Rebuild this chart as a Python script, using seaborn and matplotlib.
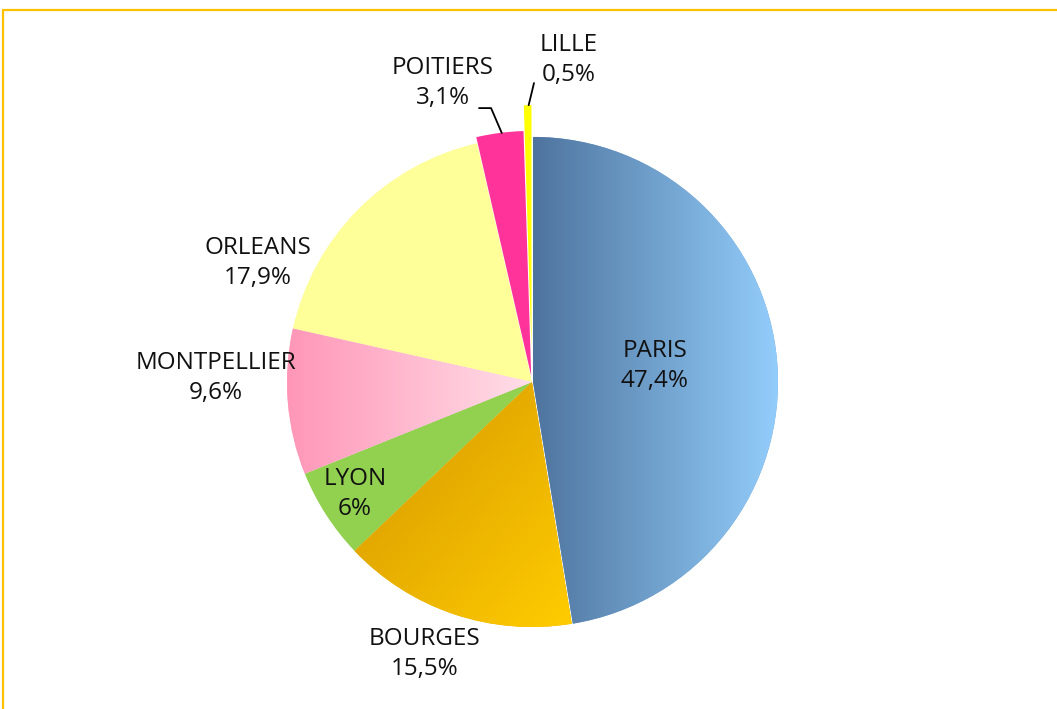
import numpy as np
import matplotlib
matplotlib.use("Agg")
import matplotlib.pyplot as plt
from matplotlib.lines import Line2D
from matplotlib.colors import to_rgb
import seaborn as sns

# ---- data ----
cities = ["PARIS", "BOURGES", "LYON", "MONTPELLIER", "ORLEANS", "POITIERS", "LILLE"]
shares = [47.4, 15.5, 6.0, 9.6, 17.9, 3.1, 0.5]

# ---- style ----
base_colors = ["#6f9ccc", "#ecb400", "#92d050", "#ffbbd0", "#ffff99", "#ff3399", "#ffff00"]
gradients = {
    0: ("#4e749e", "#93cdfb", "h"),
    1: ("#d49600", "#ffcc00", "d"),
    3: ("#ff96b8", "#ffdfe9", "h"),
}
explode_frac = [0.004, 0, 0, 0, 0, 0.025, 0.13]
# label offsets in units of radius (dx, dy)
label_off = [(0.502, 0.065), (-0.437, -1.110), (-0.722, -0.457), (-1.290, 0.016),
             (-1.118, 0.486), (-0.363, 1.220), (0.151, 1.314)]

sns.set_theme(style="white")
plt.rcParams["font.family"] = ["Open Sans", "DejaVu Sans"]

W, H = 1057, 709
fig = plt.figure(figsize=(W / 100, H / 100), dpi=100)
ax = fig.add_axes([0, 0, 1, 1])
ax.set_axis_off()

cx, cy, R = 532, H - 382, 245
palette = sns.color_palette(base_colors)

wedges, _ = ax.pie(shares, colors=palette, startangle=90, counterclock=False,
                   explode=[e * R for e in explode_frac], center=(cx, cy), radius=R,
                   wedgeprops=dict(linewidth=0, antialiased=True))

# gradient fills
for i, (c0, c1, mode) in gradients.items():
    w = wedges[i]
    ext = w.get_path().get_extents()
    n = 256
    xs = np.linspace(0, 1, n)
    X, Y = np.meshgrid(xs, xs)
    if mode == "h":
        t = X
    else:
        t = (X + (1 - Y)) / 2
    a, b = np.array(to_rgb(c0)), np.array(to_rgb(c1))
    img = a[None, None, :] * (1 - t[..., None]) + b[None, None, :] * t[..., None]
    im = ax.imshow(img, extent=[ext.x0, ext.x1, ext.y0, ext.y1], origin="lower",
                   aspect="auto", interpolation="bicubic", zorder=w.get_zorder() + 0.1)
    im.set_clip_path(w)

# labels
for i, (name, v) in enumerate(zip(cities, shares)):
    txt = f"{name}\n{v:g}%".replace(".", ",")
    dx, dy = label_off[i]
    ax.text(cx + dx * R, cy + dy * R, txt, ha="center", va="center",
            fontsize=17.5, color="#111111", linespacing=1.3, zorder=10)

# leader lines for small slices
def arc_mid(w):
    th = np.deg2rad((w.theta1 + w.theta2) / 2)
    return w.center[0] + w.r * np.cos(th), w.center[1] + w.r * np.sin(th)

# Poitiers
px, py = arc_mid(wedges[5])
lx = cx + label_off[5][0] * R
ly = cy + label_off[5][1] * R
ax.plot([lx + 36, lx + 48, px + 2], [ly - 25, ly - 25, py], color="black", lw=1.3, zorder=9)
# Lille
qx, qy = arc_mid(wedges[6])
mx = cx + label_off[6][0] * R
my = cy + label_off[6][1] * R
ax.plot([qx + 1, mx - 35], [qy, my - 23], color="black", lw=1.3, zorder=9)

ax.set_xlim(0, W)
ax.set_ylim(0, H)
ax.set_aspect("equal")

# chart frame (gold border, cut at right/bottom)
gold = "#ffc000"
fig.add_artist(Line2D([3 / W, 1], [1 - 10 / H, 1 - 10 / H], color=gold, lw=1.6))
fig.add_artist(Line2D([3 / W, 3 / W], [0, 1 - 10 / H], color=gold, lw=1.6))

fig.savefig("out.png", dpi=100, facecolor="white")
